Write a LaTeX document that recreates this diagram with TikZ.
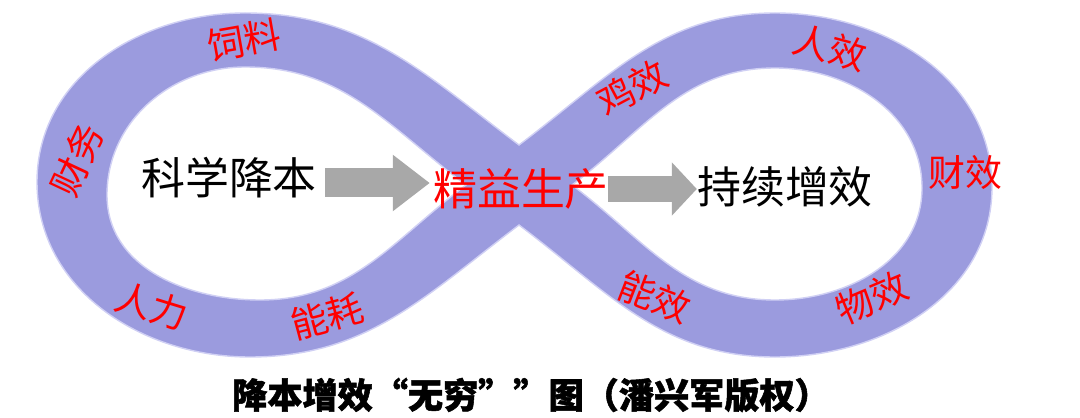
\documentclass[tikz,border=0pt]{standalone}
\usepackage{fontspec}
\usepackage{xcolor}
\usetikzlibrary{calc,arrows.meta}
\newfontfamily\cjk{Noto Sans CJK SC}
\newfontfamily\cjktitle[BoldFeatures={FakeBold=1.5}]{Noto Sans CJK SC}
\definecolor{bandlilac}{RGB}{155,155,222}
\definecolor{bandedge}{RGB}{208,208,244}
\definecolor{arrowgray}{RGB}{168,168,168}
\definecolor{labelred}{RGB}{255,0,0}

\begin{document}
\begin{tikzpicture}[
  redlabel/.style={text=labelred, font=\cjk\fontsize{21pt}{21pt}\selectfont, inner sep=0pt},
  mainlabel/.style={font=\cjk\fontsize{25pt}{25pt}\selectfont, inner sep=0pt},
  titlelabel/.style={font=\cjktitle\bfseries\fontsize{20pt}{20pt}\selectfont, inner sep=0pt},
  grayarrow/.style={arrowgray, line width=0.58cm, -{Triangle[length=0.74cm, width=1.08cm]}},
  shortarrow/.style={arrowgray, line width=0.52cm, -{Triangle[length=0.5cm, width=1.04cm]}},
]
\useasboundingbox (0,0) rectangle (21.6,8.34);

% 1. INFINITY BAND
\fill[bandlilac, draw=bandedge, line width=0.8pt]
  (10.38,5.44) to[out=37, in=180] (15.5,8.08) to[out=0, in=90] (19.84,4.60)
  to[out=-90, in=0] (15.5,1.20) to[out=180, in=-37] (10.38,3.84)
  to[out=217, in=0] (5.0,1.20) to[out=180, in=-90] (0.74,4.70)
  to[out=90, in=180] (4.9,8.08) to[out=0, in=143] (10.38,5.44) -- cycle;

% Left hole
\fill[white, draw=bandedge, line width=0.8pt]
  (9.32,4.64) to[out=143, in=0] (4.9,7.0) to[out=180, in=90] (2.14,4.44)
  to[out=-90, in=180] (5.2,2.34) to[out=0, in=217] (9.32,4.64) -- cycle;

% Right hole
\fill[white, draw=bandedge, line width=0.8pt]
  (11.44,4.64) to[out=37, in=180] (15.5,6.98) to[out=0, in=90] (18.44,4.58)
  to[out=-90, in=0] (15.5,2.34) to[out=180, in=-37] (11.44,4.64) -- cycle;

% 2. RED LABELS ON THE BAND
\node[redlabel, rotate=10] (sl) at (4.88,7.54) {饲料};
\node[redlabel, rotate=65] (cw) at (1.54,5.14) {财务};
\node[redlabel, rotate=-17] (rl) at (3.04,2.22) {人力};
\node[redlabel, rotate=15] (nh) at (6.54,2.02) {能耗};
\node[redlabel, rotate=28] (jx) at (12.64,6.58) {鸡效};
\node[redlabel, rotate=-15] (rx) at (16.60,7.38) {人效};
\node[redlabel] (cx) at (19.30,4.88) {财效};
\node[redlabel, rotate=-21] (nx) at (13.10,2.40) {能效};
\node[redlabel, rotate=23] (wx) at (17.44,2.38) {物效};

% 3. MAIN CHAIN
\node[mainlabel] (kxjb) at (4.58,4.78) {科学降本};
\node[mainlabel, text=labelred] (jysc) at (10.42,4.56) {精益生产};
\node[mainlabel] (cxzx) at (15.70,4.60) {持续增效};

\draw[grayarrow] ([xshift=0.16cm,yshift=-0.1cm]kxjb.east) -- ([xshift=-0.06cm,yshift=-0.1cm]kxjb.east -| jysc.west);
\draw[shortarrow] ([xshift=-0.02cm]jysc.east) -- (jysc.east -| cxzx.west);

% 4. TITLE
\node[titlelabel] (title) at (10.62,0.44) {降本增效“无穷””图（潘兴军版权）};

\end{tikzpicture}
\end{document}
